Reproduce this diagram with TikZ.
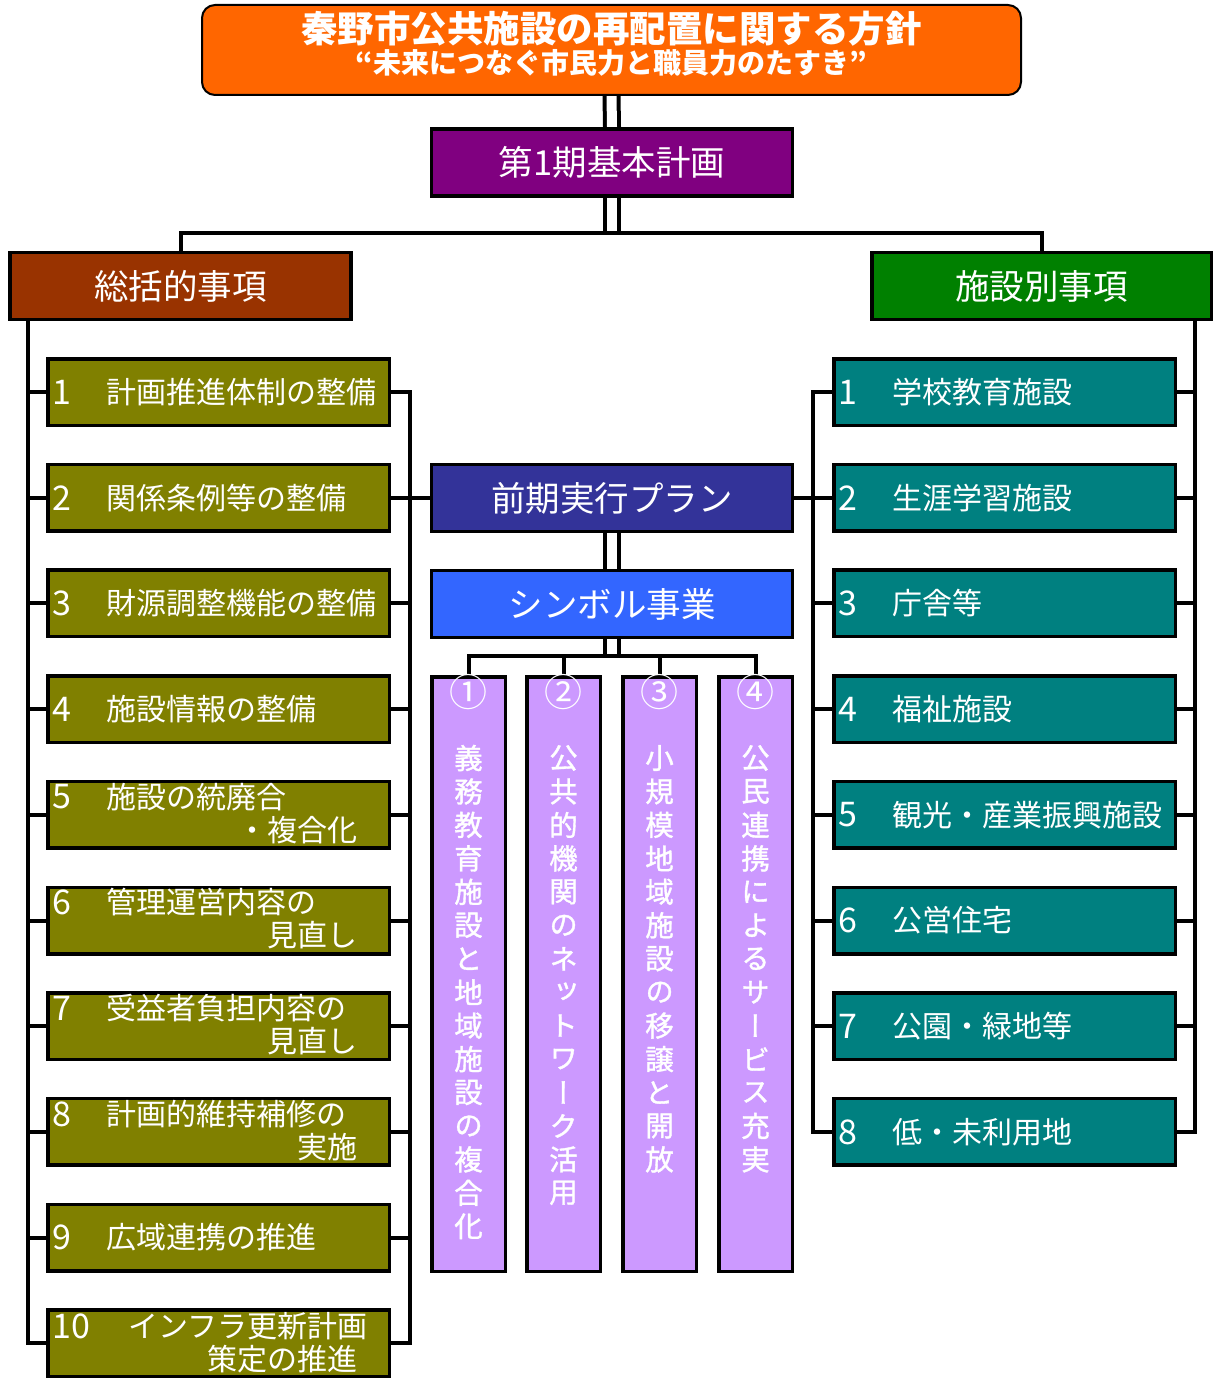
\documentclass[tikz,border=0pt]{standalone}
\usepackage{fontspec}
\setmainfont{Noto Sans CJK JP}
\newfontfamily\vjp[RawFeature=+vert, FakeBold=1.2]{Noto Sans CJK JP}
\usetikzlibrary{backgrounds}
\definecolor{cOrange}{HTML}{FF6600}
\definecolor{cPurple}{HTML}{800080}
\definecolor{cBrown}{HTML}{993300}
\definecolor{cGreen}{HTML}{008000}
\definecolor{cOlive}{HTML}{808000}
\definecolor{cTeal}{HTML}{008080}
\definecolor{cNavy}{HTML}{333399}
\definecolor{cBlue}{HTML}{3366FF}
\definecolor{cLav}{HTML}{CC99FF}
\tikzset{
  boxbase/.style={draw=black, line width=3.5pt, inner sep=0pt, rectangle},
  hdr/.style={boxbase, minimum width=361pt, minimum height=67pt},
  sidehdr/.style={boxbase, minimum width=341pt, minimum height=67pt},
  lbox/.style={boxbase, fill=cOlive, minimum width=341.5pt, minimum height=66.5pt},
  rbox/.style={boxbase, fill=cTeal, minimum width=341.5pt, minimum height=66.5pt},
  colbox/.style={boxbase, fill=cLav, minimum width=73.5pt, minimum height=594.5pt},
  htxt/.style={text=white, inner sep=0pt, font=\fontsize{34.5}{38}\selectfont},
  itxt/.style={text=white, inner sep=0pt, font=\fontsize{30}{34}\selectfont},
  inum/.style={text=white, inner sep=0pt, font=\fontsize{34}{38}\selectfont},
  circ/.style={text=white, inner sep=0pt, font=\fontsize{38}{40}\selectfont},
  vch/.style={text=white, inner sep=0pt, font=\vjp\fontsize{28.5}{33}\selectfont},
  conn/.style={draw=black, line width=4pt},
  dbl/.style={draw=black, line width=4pt, double=white, double distance=10pt},
}
\begin{document}
\begin{tikzpicture}[x=1pt,y=-1pt]
\useasboundingbox (0,0) rectangle (1215,1380);

% title
\node[draw=black, line width=2pt, fill=cOrange, rounded corners=13pt, minimum width=819pt, minimum height=90pt, inner sep=0pt] (title) at (611.5,50) {};
\node[text=white, inner sep=0pt, font=\bfseries\fontsize{36.5}{40}\selectfont] (t1) at (611.5,28.5) {秦野市公共施設の再配置に関する方針};
\node[text=white, inner sep=0pt, font=\bfseries\fontsize{28}{30}\selectfont] (t2) at (611.5,63) {“未来につなぐ市民力と職員力のたすき”};

% headers
\node[hdr, fill=cPurple] (plan1) at (612,162.5) {};
\node[htxt] (plan1t) at (plan1) {第1期基本計画};
\node[sidehdr, fill=cBrown] (sokatsu) at (180.5,286) {};
\node[htxt] (sokatsut) at (sokatsu) {総括的事項};
\node[sidehdr, fill=cGreen, minimum width=339.5pt] (shisetsu) at (1041.5,286) {};
\node[htxt] (shisetsut) at (shisetsu) {施設別事項};
\node[hdr, fill=cNavy] (zenki) at (612,498) {};
\node[htxt] (zenkit) at (zenki) {前期実行プラン};
\node[hdr, fill=cBlue] (symbol) at (612,604) {};
\node[htxt] (symbolt) at (symbol) {シンボル事業};

% item boxes
\foreach \i in {1,...,10} \node[lbox] (L\i) at (218.5,{392+(\i-1)*105.7}) {};
\foreach \i in {1,...,8} \node[rbox] (R\i) at (1004.5,{392+(\i-1)*105.7}) {};

% left item texts
\node[inum, anchor=west] (L1n) at ([shift={(6,0)}]L1.west) {1};
\node[itxt, anchor=west] (L1t) at ([shift={(60,0)}]L1.west) {計画推進体制の整備};
\node[inum, anchor=west] (L2n) at ([shift={(6,0)}]L2.west) {2};
\node[itxt, anchor=west] (L2t) at ([shift={(60,0)}]L2.west) {関係条例等の整備};
\node[inum, anchor=west] (L3n) at ([shift={(6,0)}]L3.west) {3};
\node[itxt, anchor=west] (L3t) at ([shift={(60,0)}]L3.west) {財源調整機能の整備};
\node[inum, anchor=west] (L4n) at ([shift={(6,0)}]L4.west) {4};
\node[itxt, anchor=west] (L4t) at ([shift={(60,0)}]L4.west) {施設情報の整備};
\node[inum, anchor=west] (L5n) at ([shift={(6,-18)}]L5.west) {5};
\node[itxt, anchor=west] (L5t) at ([shift={(60,-18)}]L5.west) {施設の統廃合};
\node[itxt, anchor=east] (L5u) at ([shift={(-33,15)}]L5.east) {・複合化};
\node[inum, anchor=west] (L6n) at ([shift={(6,-18)}]L6.west) {6};
\node[itxt, anchor=west] (L6t) at ([shift={(60,-18)}]L6.west) {管理運営内容の};
\node[itxt, anchor=east] (L6u) at ([shift={(-33,15)}]L6.east) {見直し};
\node[inum, anchor=west] (L7n) at ([shift={(6,-18)}]L7.west) {7};
\node[itxt, anchor=west] (L7t) at ([shift={(60,-18)}]L7.west) {受益者負担内容の};
\node[itxt, anchor=east] (L7u) at ([shift={(-33,15)}]L7.east) {見直し};
\node[inum, anchor=west] (L8n) at ([shift={(6,-18)}]L8.west) {8};
\node[itxt, anchor=west] (L8t) at ([shift={(60,-18)}]L8.west) {計画的維持補修の};
\node[itxt, anchor=east] (L8u) at ([shift={(-33,15)}]L8.east) {実施};
\node[inum, anchor=west] (L9n) at ([shift={(6,0)}]L9.west) {9};
\node[itxt, anchor=west] (L9t) at ([shift={(60,0)}]L9.west) {広域連携の推進};
\node[inum, anchor=west] (L10n) at ([shift={(6,-17)}]L10.west) {10};
\node[itxt, anchor=west] (L10t) at ([shift={(82,-17)}]L10.west) {インフラ更新計画};
\node[itxt, anchor=east] (L10u) at ([shift={(-33,16)}]L10.east) {策定の推進};

% right item texts
\node[inum, anchor=west] (R1n) at ([shift={(6,0)}]R1.west) {1};
\node[itxt, anchor=west] (R1t) at ([shift={(60,0)}]R1.west) {学校教育施設};
\node[inum, anchor=west] (R2n) at ([shift={(6,0)}]R2.west) {2};
\node[itxt, anchor=west] (R2t) at ([shift={(60,0)}]R2.west) {生涯学習施設};
\node[inum, anchor=west] (R3n) at ([shift={(6,0)}]R3.west) {3};
\node[itxt, anchor=west] (R3t) at ([shift={(60,0)}]R3.west) {庁舎等};
\node[inum, anchor=west] (R4n) at ([shift={(6,0)}]R4.west) {4};
\node[itxt, anchor=west] (R4t) at ([shift={(60,0)}]R4.west) {福祉施設};
\node[inum, anchor=west] (R5n) at ([shift={(6,0)}]R5.west) {5};
\node[itxt, anchor=west] (R5t) at ([shift={(60,0)}]R5.west) {観光・産業振興施設};
\node[inum, anchor=west] (R6n) at ([shift={(6,0)}]R6.west) {6};
\node[itxt, anchor=west] (R6t) at ([shift={(60,0)}]R6.west) {公営住宅};
\node[inum, anchor=west] (R7n) at ([shift={(6,0)}]R7.west) {7};
\node[itxt, anchor=west] (R7t) at ([shift={(60,0)}]R7.west) {公園・緑地等};
\node[inum, anchor=west] (R8n) at ([shift={(6,0)}]R8.west) {8};
\node[itxt, anchor=west] (R8t) at ([shift={(60,0)}]R8.west) {低・未利用地};

% columns
\node[colbox] (C1) at (468.5,974) {};
\node[colbox] (C2) at (563.5,974) {};
\node[colbox] (C3) at (659.5,974) {};
\node[colbox] (C4) at (755.5,974) {};
\node[circ] (C1n) at (468.5,692) {①};
\node[circ] (C2n) at (563.5,692) {②};
\node[circ] (C3n) at (659.5,692) {③};
\node[circ] (C4n) at (755.5,692) {④};
\foreach \c [count=\j] in {義,務,教,育,施,設,と,地,域,施,設,の,複,合,化}
  \node[vch] (va\j) at (468.5,{758+(\j-1)*33.45}) {\c};
\foreach \c [count=\j] in {公,共,的,機,関,の,ネ,ッ,ト,ワ,ー,ク,活,用}
  \node[vch] (vb\j) at (563.5,{758+(\j-1)*33.45}) {\c};
\foreach \c [count=\j] in {小,規,模,地,域,施,設,の,移,譲,と,開,放}
  \node[vch] (vc\j) at (659.5,{758+(\j-1)*33.45}) {\c};
\foreach \c [count=\j] in {公,民,連,携,に,よ,る,サ,ー,ビ,ス,充,実}
  \node[vch] (vd\j) at (755.5,{758+(\j-1)*33.45}) {\c};

% connectors
\begin{scope}[on background layer]
  \coordinate (hb) at (612,233);
  \coordinate (sb) at (612,656);
  \coordinate (lob) at (28,0);
  \coordinate (lib) at (410,0);
  \coordinate (rib) at (813,0);
  \coordinate (rob) at (1195,0);
  \draw[dbl] (title.south) -- (plan1.north);
  \draw[dbl] (plan1.south) -- (hb);
  \draw[conn] (sokatsu.north) |- (hb) -| (shisetsu.north);
  % left outer bus
  \draw[conn] (sokatsu.south -| lob) |- (L10.west);
  \foreach \i in {1,...,9} \draw[conn] (L\i.west -| lob) -- (L\i.west);
  % left inner bus
  \draw[conn] (L1.east) -- (L1.east -| lib) -- (L10.east -| lib) -- (L10.east);
  \foreach \i in {2,...,9} \draw[conn] (L\i.east) -- (L\i.east -| lib);
  \draw[conn] (zenki.west) -- (zenki.west -| lib);
  % right inner bus
  \draw[conn] (R1.west) -- (R1.west -| rib) -- (R8.west -| rib) -- (R8.west);
  \foreach \i in {2,...,7} \draw[conn] (R\i.west) -- (R\i.west -| rib);
  \draw[conn] (zenki.east) -- (zenki.east -| rib);
  % right outer bus
  \draw[conn] (shisetsu.south -| rob) |- (R8.east);
  \foreach \i in {1,...,7} \draw[conn] (R\i.east) -- (R\i.east -| rob);
  % plan to symbol
  \draw[dbl] (zenki.south) -- (symbol.north);
  \draw[dbl] (symbol.south) -- (sb);
  \draw[conn] (C1.north) |- (sb) -| (C4.north);
  \draw[conn] (C2.north) -- (C2.north |- sb);
  \draw[conn] (C3.north) -- (C3.north |- sb);
\end{scope}
\end{tikzpicture}
\end{document}
